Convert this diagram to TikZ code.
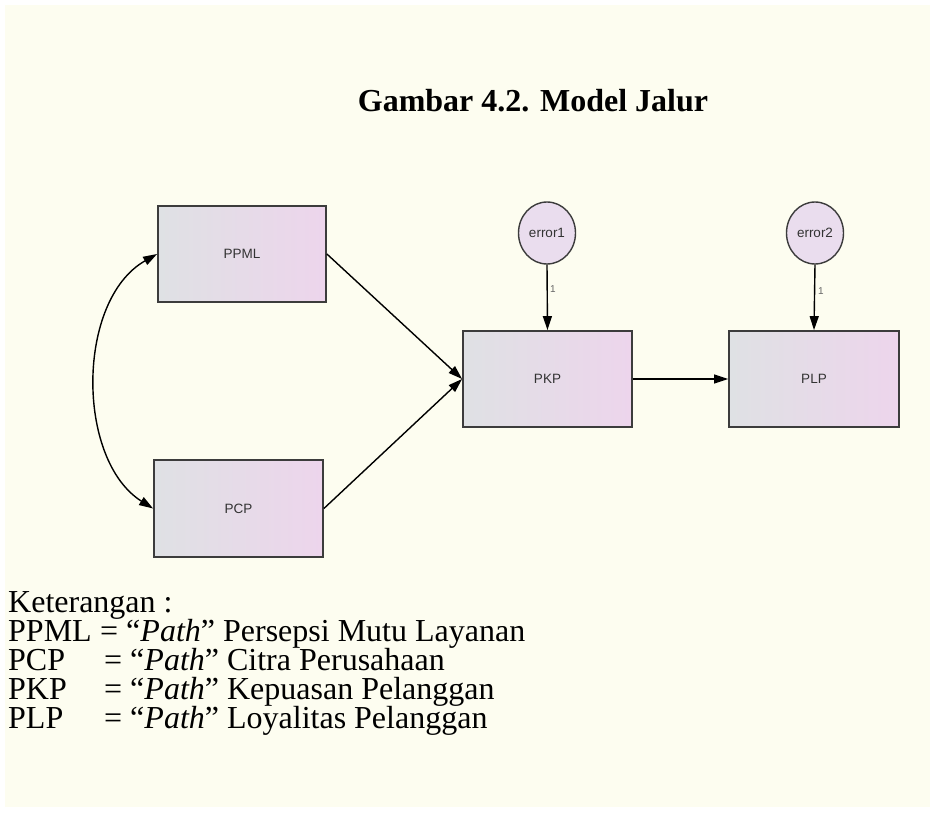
\documentclass[tikz,border=0pt]{standalone}
\usepackage{fontspec}
\setmainfont{Liberation Serif}
\newfontfamily\diagfont{Liberation Sans}
\usetikzlibrary{arrows.meta,shapes.geometric}

\definecolor{paper}{HTML}{FDFDF0}
\definecolor{boxleft}{HTML}{DFE1E4}
\definecolor{boxright}{HTML}{EDD5EC}
\definecolor{edgegray}{HTML}{3C3C3C}
\definecolor{errfill}{HTML}{EADDEE}

\begin{document}
\begin{tikzpicture}[x=1pt,y=-1pt,
  varbox/.style={rectangle, draw=edgegray, line width=1.8pt,
    minimum width=168pt, minimum height=96pt, inner sep=0pt,
    left color=boxleft, right color=boxright,
    font=\diagfont\fontsize{13.5}{15}\selectfont, text=black!80},
  errnode/.style={ellipse, draw=edgegray, line width=1.4pt, fill=errfill,
    minimum width=57pt, minimum height=62pt, inner sep=0pt,
    font=\diagfont\fontsize{13.5}{15}\selectfont, text=black!80},
  link/.style={-{Triangle[length=14pt,width=9pt]}, line width=1.4pt, black},
  covlink/.style={{Triangle[length=14pt,width=9pt]}-{Triangle[length=14pt,width=9pt]}, line width=1.4pt, black},
  weight/.style={font=\diagfont\fontsize{10}{11}\selectfont, text=black!60, inner sep=0pt},
  legend/.style={anchor=base west, inner sep=0pt, font=\fontsize{32}{36}\selectfont},
]
% page and paper
\useasboundingbox (0,0) rectangle (930,819);
\fill[white] (0,0) rectangle (930,819);
\fill[paper] (5,5) rectangle (930,807);

% title
\node[anchor=base, inner sep=0pt, font=\bfseries\fontsize{32}{36}\selectfont] (title) at (533,111) {Gambar 4.2. Model Jalur};

% observed variables
\node[varbox] (ppml) at (242,254) {PPML};
\node[varbox, minimum width=169pt, minimum height=97pt] (pcp) at (238.5,508.5) {PCP};
\node[varbox, minimum width=169pt] (pkp) at (547.5,379) {PKP};
\node[varbox, minimum width=170pt] (plp) at (814,379) {PLP};

% error terms
\node[errnode] (e1) at (547,233) {error1};
\node[errnode] (e2) at (815,233) {error2};

% paths
\draw[link] (ppml.east) -- (pkp.west);
\draw[link] (pcp.east) -- (pkp.west);
\draw[link] (pkp.east) -- (plp.west);
\draw[link] (e1.south) -- (pkp.north);
\draw[link] (e2.south) -- (plp.north);
\draw[covlink] (ppml.west) .. controls (76,300) and (76,460) .. (pcp.west);

% regression weights of the error terms
\node[weight] (w1) at (553,289) {1};
\node[weight] (w2) at (821,291) {1};

% legend
\node[legend] (ket) at (8,612) {Keterangan :};
\node[legend] (a1) at (8,641) {PPML};
\node[legend] (l1) at (100,641) {= “\textit{Path}” Persepsi Mutu Layanan};
\node[legend] (a2) at (8,670) {PCP};
\node[legend] (l2) at (104,670) {= “\textit{Path}” Citra Perusahaan};
\node[legend] (a3) at (8,699) {PKP};
\node[legend] (l3) at (104,699) {= “\textit{Path}” Kepuasan Pelanggan};
\node[legend] (a4) at (8,728) {PLP};
\node[legend] (l4) at (104,728) {= “\textit{Path}” Loyalitas Pelanggan};
\end{tikzpicture}
\end{document}
